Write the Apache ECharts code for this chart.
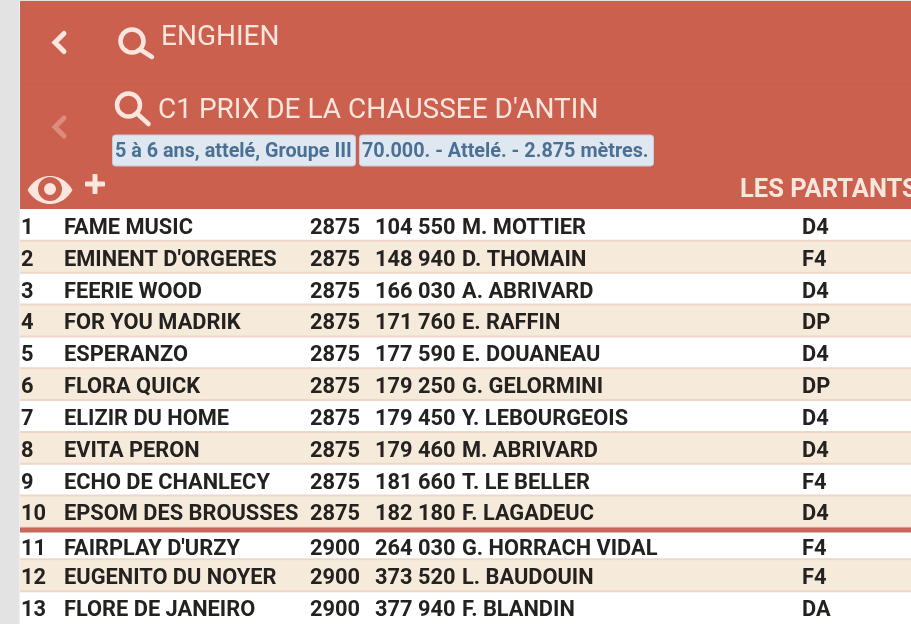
<!DOCTYPE html>
<html>
<head>
<meta charset="utf-8">
<title>LES PARTANTS</title>
<style>
  html, body { margin: 0; padding: 0; background: #fff; }
  #chart { width: 911px; height: 624px; }
</style>
<script src="https://cdn.jsdelivr.net/npm/echarts@6/dist/echarts.min.js"></script>
</head>
<body>
<div id="chart"></div>
<script>
const numbers = [1, 2, 3, 4, 5, 6, 7, 8, 9, 10, 11, 12, 13];
const horses = ["FAME MUSIC", "EMINENT D'ORGERES", "FEERIE WOOD", "FOR YOU MADRIK", "ESPERANZO", "FLORA QUICK", "ELIZIR DU HOME", "EVITA PERON", "ECHO DE CHANLECY", "EPSOM DES BROUSSES", "FAIRPLAY D'URZY", "EUGENITO DU NOYER", "FLORE DE JANEIRO"];
const distances = [2875, 2875, 2875, 2875, 2875, 2875, 2875, 2875, 2875, 2875, 2900, 2900, 2900];
const earnings = ["104 550", "148 940", "166 030", "171 760", "177 590", "179 250", "179 450", "179 460", "181 660", "182 180", "264 030", "373 520", "377 940"];
const drivers = ["M. MOTTIER", "D. THOMAIN", "A. ABRIVARD", "E. RAFFIN", "E. DOUANEAU", "G. GELORMINI", "Y. LEBOURGEOIS", "M. ABRIVARD", "T. LE BELLER", "F. LAGADEUC", "G. HORRACH VIDAL", "L. BAUDOUIN", "F. BLANDIN"];
const shoes = ["D4", "F4", "D4", "DP", "D4", "DP", "D4", "D4", "F4", "D4", "F4", "F4", "DA"];

const RED = "#cc604f";
const CREAM = "#fbe6dd";
const font = "Roboto";

// one row of the table, every x comes from the value axis
function renderRow(params, api) {
  const i = params.dataIndex;
  const c = api.coord([0, i]);
  const band = api.size([0, 1])[1];
  const left = api.coord([20, i])[0];
  const right = api.coord([911, i])[0];
  const top = c[1] - band / 2;
  const changed = i > 0 && distances[i] !== distances[i - 1];
  const dy = changed ? 5.5 : 2.5;
  const children = [];
  children.push({
    type: "rect",
    shape: { x: left, y: top, width: right - left, height: band },
    style: { fill: i % 2 === 1 ? "#f6eadb" : "#ffffff" }
  });
  if (i < numbers.length - 1) {
    children.push({
      type: "rect",
      shape: { x: left, y: top + band - 2, width: right - left, height: 3 },
      style: { fill: "#eed6c8" }
    });
  }
  if (changed) {
    children.push({
      type: "rect",
      shape: { x: left, y: top - 1, width: right - left, height: 5 },
      style: { fill: "#c9675a" }
    });
  }
  const cols = [
    [21, numbers[i]], [64, horses[i]], [310, distances[i]],
    [375, earnings[i]], [462, drivers[i]], [802, shoes[i]]
  ];
  cols.forEach(function (col) {
    children.push({
      type: "text",
      style: {
        x: api.coord([col[0], i])[0],
        y: c[1] + dy,
        text: String(col[1]),
        fill: "#232220",
        font: "700 21.8px " + font,
        textAlign: "left",
        textVerticalAlign: "middle"
      }
    });
  });
  return { type: "group", children: children };
}

function headerText(x, y, text, size, weight, fill) {
  return {
    type: "text", left: x, top: y,
    style: { text: text, fill: fill || CREAM, font: weight + " " + size + "px " + font }
  };
}

function lens(cx, cy, drop) {
  return [
    { type: "circle", shape: { cx: cx, cy: cy, r: 11.5 }, style: { fill: "none", stroke: CREAM, lineWidth: 4.5 } },
    { type: "line", shape: { x1: cx + 9, y1: cy + 9, x2: cx + 20, y2: cy + drop }, style: { stroke: CREAM, lineWidth: 4.5, lineCap: "round" } }
  ];
}

function chevron(x, y, color) {
  return {
    type: "polyline",
    shape: { points: [[x + 9, y - 9], [x, y], [x + 9, y + 9]] },
    style: { fill: "none", stroke: color, lineWidth: 5, lineCap: "round", lineJoin: "miter" }
  };
}

function badge(x, w, text) {
  return [
    { type: "rect", shape: { x: x, y: 135, width: w, height: 31, r: 3 }, style: { fill: "#dfe8f1", stroke: "#c8ccd8", lineWidth: 1 } },
    { type: "text", left: x + 2.5, top: 142, style: { text: text, fill: "#4a7096", font: "700 19.8px " + font } }
  ];
}

function eyeLid(cpy) {
  return {
    type: "bezierCurve",
    shape: { x1: 28, y1: 190, x2: 72, y2: 190, cpx1: 38, cpy1: cpy, cpx2: 62, cpy2: cpy },
    style: { fill: CREAM, stroke: CREAM, lineWidth: 1 }
  };
}

const header = [
  { type: "rect", shape: { x: 0, y: 0, width: 19, height: 624 }, style: { fill: "#e3e3e3" } },
  { type: "rect", shape: { x: 19, y: 0, width: 1, height: 624 }, style: { fill: "#efefef" } },
  { type: "rect", shape: { x: 19, y: 0, width: 892, height: 1 }, style: { fill: "#e3e3e3" } },
  { type: "rect", shape: { x: 20, y: 1, width: 891, height: 208 }, style: { fill: RED } },
  { type: "rect", shape: { x: 20, y: 83, width: 891, height: 1 }, style: { fill: "#c85d4c" } },
  chevron(55, 42.5, CREAM),
  chevron(55, 127, "#dc8b7c"),
  ...lens(132, 41, 16),
  ...lens(128.5, 105, 19),
  headerText(161, 24, "ENGHIEN", 28, 400),
  headerText(158, 97, "C1 PRIX DE LA CHAUSSEE D'ANTIN", 28, 400),
  ...badge(112.5, 243, "5 à 6 ans, attelé, Groupe III"),
  ...badge(359.5, 294, "70.000. - Attelé. - 2.875 mètres."),
  eyeLid(172),
  eyeLid(208),
  { type: "circle", shape: { cx: 50, cy: 189, r: 9 }, style: { fill: "none", stroke: RED, lineWidth: 6 } },
  { type: "rect", shape: { x: 85, y: 181.5, width: 20, height: 5, r: 1 }, style: { fill: CREAM } },
  { type: "rect", shape: { x: 92.5, y: 174, width: 5, height: 20, r: 1 }, style: { fill: CREAM } },
  headerText(740, 178, "LES PARTANTS", 25.5, 700)
];

const chart = echarts.init(document.getElementById("chart"));
chart.setOption({
  animation: false,
  backgroundColor: "#ffffff",
  grid: { left: 0, right: 0, top: 210, height: 416 },
  xAxis: { type: "value", min: 0, max: 911, show: false },
  yAxis: { type: "category", inverse: true, data: numbers, show: false },
  graphic: { elements: header },
  series: [
    {
      type: "custom",
      clip: false,
      renderItem: renderRow,
      encode: { x: 0, y: 1 },
      data: numbers.map(function (n, i) { return [0, i]; })
    }
  ]
});
</script>
</body>
</html>
